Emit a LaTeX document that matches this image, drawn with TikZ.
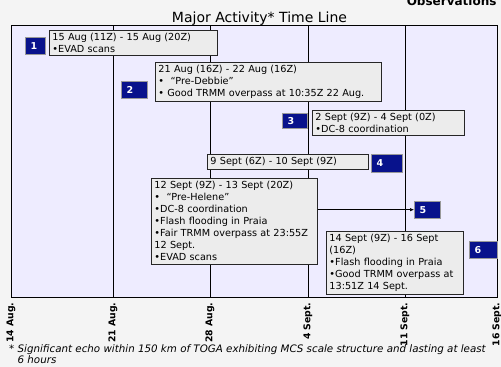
\documentclass[tikz,border=0pt]{standalone}
\usepackage{fontspec}
\setmainfont{DejaVu Sans}
\usetikzlibrary{arrows.meta}
\definecolor{pagebg}{RGB}{244,244,244}
\definecolor{plotbg}{RGB}{238,236,255}
\definecolor{boxbg}{RGB}{236,236,236}
\definecolor{badgeblue}{RGB}{8,18,140}
\begin{document}
\begin{tikzpicture}[x=1pt, y=-1pt,
    event/.style={draw=black!85, line width=0.9pt, fill=boxbg, anchor=north west, align=left,
      inner xsep=3pt, inner ysep=3pt, font=\fontsize{9.7}{12}\selectfont},
    badge/.style={fill=badgeblue, draw=black!40, line width=0.4pt, anchor=north west, text=white,
      inner xsep=5.5pt, inner ysep=0pt, align=left, font=\fontsize{9.5}{11}\selectfont\bfseries},
    datelabel/.style={rotate=90, anchor=east, font=\fontsize{9.3}{11}\selectfont\bfseries}]

    % Background
    \fill[pagebg] (0,0) rectangle (501,367);
    \useasboundingbox (0,0) rectangle (501,367);
    \fill[plotbg] (11,25) rectangle (497,297);

    % Title
    \node[font=\fontsize{14}{16}\selectfont, anchor=base] (title) at (259.5,22) {Major Activity* Time Line};
    \node[font=\fontsize{12}{14}\selectfont\bfseries, anchor=base east] (obs) at (500,5) {Observations};

    % Week lines and frame
    \foreach \x in {113,210,308,405}
        \draw[line width=0.8pt] (\x,25) -- (\x,297);
    \draw[line width=0.9pt] (11,25) rectangle (497,297);

    % Dates
    \foreach \x/\d in {11/14 Aug., 113/21 Aug., 210/28 Aug., 308/4 Sept., 405/11 Sept., 497/16 Sept.}
        \node[datelabel] (day\x) at (\x,299) {\d};

    % Events
    \node[event, text width=162pt] (ev1) at (49,30) {15 Aug (11Z) - 15 Aug (20Z)\\•EVAD scans};
    \node[badge, text width=9pt, minimum height=17pt] (bd1) at (25,37) {1};

    \node[event, text width=220pt] (ev2) at (155,62) {21 Aug (16Z) - 22 Aug (16Z)\\•\ \ “Pre-Debbie”\\• Good TRMM overpass at 10:35Z 22 Aug.};
    \node[badge, text width=15pt, minimum height=17pt] (bd2) at (121,81) {2};

    \node[event, text width=146pt] (ev3) at (312,110) {2 Sept (9Z) - 4 Sept (0Z)\\•DC-8 coordination};
    \node[badge, text width=14pt, minimum height=15pt] (bd3) at (282,113) {3};

    \node[event, text width=155pt] (ev4) at (207,154) {9 Sept (6Z) - 10 Sept (9Z)};
    \node[badge, text width=20pt, minimum height=18pt] (bd4) at (371,154) {4};

    \node[event, text width=160pt] (ev5) at (151,178) {12 Sept (9Z) - 13 Sept (20Z)\\•\ \ “Pre-Helene”\\•DC-8 coordination\\•Flash flooding in Praia\\•Fair TRMM overpass at 23:55Z\\12 Sept.\\•EVAD scans};
    \node[badge, text width=15pt, minimum height=17pt] (bd5) at (414,201) {5};
    \draw[-{Latex[length=4pt,width=3.5pt]}, line width=0.6pt] (ev5.east |- bd5.west) -- (bd5.west);

    \node[event, text width=131pt] (ev6) at (326,231) {14 Sept (9Z) - 16 Sept\\(16Z)\\•Flash flooding in Praia\\•Good TRMM overpass at\\13:51Z 14 Sept.};
    \node[badge, text width=17pt, minimum height=17pt] (bd6) at (469,241) {6};

    % Footnote
    \node[anchor=north west, inner sep=0pt, align=left, font=\fontsize{10.3}{11.5}\selectfont\itshape] (note) at (9,344)
        {* Significant echo within 150 km of TOGA exhibiting MCS scale structure and lasting at least\\\phantom{* }6 hours};
\end{tikzpicture}
\end{document}
